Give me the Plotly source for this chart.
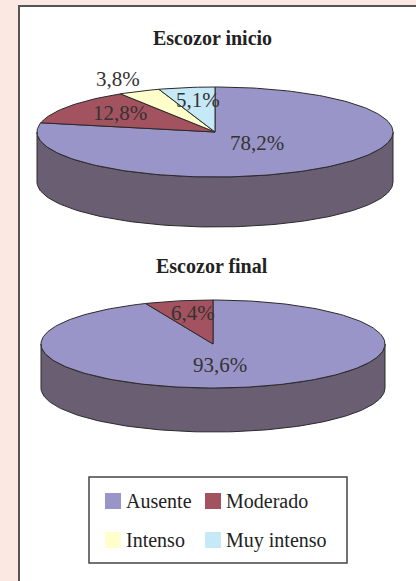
import math
import plotly.graph_objects as go

# ---- data ----
categories = ["Ausente", "Moderado", "Intenso", "Muy intenso"]
inicio_values = [78.2, 12.8, 3.8, 5.1]
final_values = [93.6, 6.4, 0.0, 0.0]
chart_titles = ["Escozor inicio", "Escozor final"]

# ---- styles ----
top_colors = ["#9A95C8", "#A3525F", "#FFFFCC", "#C6E9F8"]
side_colors = ["#6A5E72", "#6E3840", "#A8A888", "#8AA0AA"]
edge = "#2a2a2a"
pink = "#FCE8E2"
FONT = "'Liberation Serif', 'Times New Roman', serif"

W, H = 416, 581
# pie geometry (pixel space): cx, cy, rx, ry, depth
pies = [
    dict(values=inicio_values, cx=215, cy=132, rx=178, ry=45, depth=50, title_y=38,
         labels_xy=[(257, 143), (120, 113), (118, 79), (198, 100)]),
    dict(values=final_values, cx=213, cy=344, rx=172, ry=44, depth=44, title_y=266,
         labels_xy=[(220, 365), (193, 313), None, None]),
]


def pt(p, th, dy=0.0):
    r = math.radians(th)
    return p["cx"] + p["rx"] * math.cos(r), p["cy"] - p["ry"] * math.sin(r) + dy


def arc(p, a0, a1, dy=0.0, n=None):
    if n is None:
        n = max(2, int(abs(a1 - a0) / 1.5) + 2)
    xs, ys = [], []
    for i in range(n):
        th = a0 + (a1 - a0) * i / (n - 1)
        x, y = pt(p, th, dy)
        xs.append(x)
        ys.append(y)
    return xs, ys


fig = go.Figure()
annotations = []

for p in pies:
    vals = p["values"]
    total = sum(vals)
    start = 90.0
    spans = []
    for v in vals:
        sweep = 360.0 * v / total
        spans.append((start, start - sweep))
        start -= sweep

    # sides (front half: angles -180..0)
    for i, (a_hi, a_lo) in enumerate(spans):
        if a_hi - a_lo <= 0:
            continue
        for k in (-1, 0, 1):
            hi = min(a_hi + 360 * k, 0.0)
            lo = max(a_lo + 360 * k, -180.0)
            if hi - lo <= 0.01:
                continue
            xt, yt = arc(p, lo, hi)
            xb, yb = arc(p, hi, lo, dy=p["depth"])
            fig.add_trace(go.Scatter(
                x=xt + xb + [xt[0]], y=yt + yb + [yt[0]],
                mode="lines", fill="toself", fillcolor=side_colors[i],
                line=dict(color=edge, width=1), hoverinfo="skip", showlegend=False))

    # tops
    for i, (a_hi, a_lo) in enumerate(spans):
        if a_hi - a_lo <= 0:
            continue
        xa, ya = arc(p, a_hi, a_lo)
        fig.add_trace(go.Scatter(
            x=[p["cx"]] + xa + [p["cx"]], y=[p["cy"]] + ya + [p["cy"]],
            mode="lines", fill="toself", fillcolor=top_colors[i],
            line=dict(color=edge, width=1), name=categories[i],
            hoverinfo="name", showlegend=False))

    # labels
    for i, v in enumerate(vals):
        xy = p["labels_xy"][i]
        if v <= 0 or xy is None:
            continue
        annotations.append(dict(
            x=xy[0], y=xy[1], xref="x", yref="y", showarrow=False,
            text=f"{v:.1f}%".replace(".", ","),
            font=dict(family=FONT, size=21, color="#333333"),
            xanchor="center", yanchor="middle"))

# titles
for t, p in zip(chart_titles, pies):
    annotations.append(dict(
        x=212, y=p["title_y"], xref="x", yref="y", showarrow=False,
        text=f"<b>{t}</b>", font=dict(family=FONT, size=20, color="#222222"),
        xanchor="center", yanchor="middle"))

# legend (manual 2x2)
legend_pos = [(113, 501), (213, 501), (113, 540), (213, 540)]
for i, c in enumerate(categories):
    lx, ly = legend_pos[i]
    fig.add_trace(go.Scatter(
        x=[lx], y=[ly], mode="markers",
        marker=dict(symbol="square", size=16, color=top_colors[i], line=dict(width=0)),
        hoverinfo="skip", showlegend=False))
    annotations.append(dict(
        x=lx + 11, y=ly, xref="x", yref="y", showarrow=False, text=c,
        font=dict(family=FONT, size=20, color="#222222"),
        xanchor="left", yanchor="middle"))

shapes = [
    # white panel with dark left/top border
    dict(type="rect", xref="x", yref="y", x0=19, y0=6, x1=430, y1=600,
         fillcolor="white", line=dict(color="#555555", width=2), layer="below"),
    # legend box
    dict(type="rect", xref="x", yref="y", x0=89, y0=477, x1=347, y1=563,
         fillcolor="rgba(0,0,0,0)", line=dict(color="#444444", width=1.5), layer="below"),
]

fig.update_layout(
    width=W, height=H,
    margin=dict(l=0, r=0, t=0, b=0),
    paper_bgcolor=pink, plot_bgcolor=pink,
    xaxis=dict(range=[0, W], visible=False, fixedrange=True),
    yaxis=dict(range=[H, 0], visible=False, fixedrange=True),
    shapes=shapes, annotations=annotations,
    showlegend=False,
)

fig.write_html(
    "out.html",
    config={"displayModeBar": False},
    post_script="document.body.style.margin='0';document.body.style.background='%s';" % pink,
)
